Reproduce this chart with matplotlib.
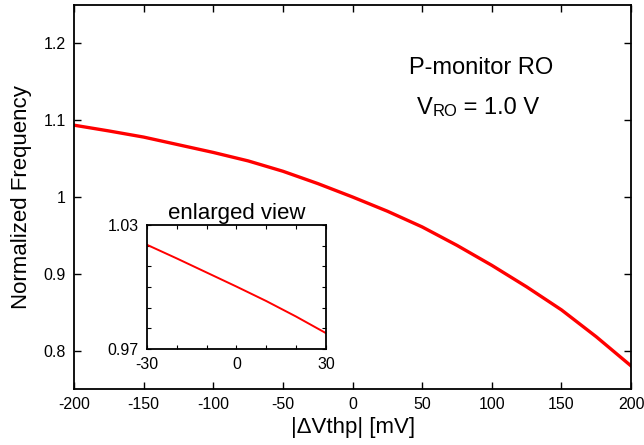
import matplotlib.pyplot as plt
import numpy as np

plt.rcParams['font.family'] = ['Liberation Sans', 'DejaVu Sans']
plt.rcParams['axes.unicode_minus'] = False

# threshold shift [mV] and normalized ring oscillator frequency
dvth = [-200, -175, -150, -125, -100, -75, -50, -25, 0, 25, 50, 75, 100, 125, 150, 175, 200]
freq = [1.0935, 1.086, 1.078, 1.068, 1.058, 1.047, 1.0335, 1.0175, 1.0, 0.9815, 0.961,
        0.937, 0.911, 0.883, 0.853, 0.818, 0.780]

# zoomed region around 0 mV
dvth_zoom = [-30, -20, -10, 0, 10, 20, 30]
freq_zoom = [1.0204, 1.0138, 1.0070, 1.0002, 0.9932, 0.9857, 0.9777]

fig = plt.figure(figsize=(6.44, 4.45), dpi=100)
ax = fig.add_axes([0.115, 0.1258, 0.865, 0.863])
ax.plot(dvth, freq, color='#ff0000', lw=2.4)
ax.set_xlim(-200, 200)
ax.set_ylim(0.75, 1.25)
ax.set_xticks(np.arange(-200, 201, 50))
ax.set_yticks([0.8, 0.9, 1.0, 1.1, 1.2])
ax.set_yticklabels(['0.8', '0.9', '1', '1.1', '1.2'])
ax.tick_params(direction='in', top=True, right=True, labelsize=11.5, length=5, width=1, pad=6)
for s in ax.spines.values():
    s.set_linewidth(1.3)
ax.set_xlabel('|\u0394Vthp| [mV]', fontsize=16, labelpad=3)
ax.set_ylabel('Normalized Frequency', fontsize=16, labelpad=8)

ax.text(0.73, 0.836, 'P-monitor RO', transform=ax.transAxes, ha='center', va='center', fontsize=17)

# V_RO label: "RO" drawn smaller on the same line
t1 = ax.text(0.615, 0.715, 'V', transform=ax.transAxes, ha='left', va='baseline', fontsize=17)
t2 = ax.annotate('RO', xy=(1, 0), xycoords=t1, ha='left', va='bottom', fontsize=12)
ax.annotate(' = 1.0 V', xy=(1, 0), xycoords=t2, ha='left', va='bottom', fontsize=17)

# inset
ins = fig.add_axes([0.228, 0.2157, 0.278, 0.279])
ins.plot(dvth_zoom, freq_zoom, color='#ff0000', lw=1.4)
ins.set_xlim(-30, 30)
ins.set_ylim(0.97, 1.03)
ins.set_xticks(np.arange(-30, 31, 10))
ins.set_xticklabels(['-30', '', '', '0', '', '', '30'])
ins.set_yticks(np.arange(0.97, 1.031, 0.01))
ins.set_yticklabels(['0.97', '', '', '', '', '', '1.03'])
ins.tick_params(direction='in', top=True, right=True, labelsize=11.5, length=3, width=0.8, pad=6)
for s in ins.spines.values():
    s.set_linewidth(1.3)
ins.set_title('enlarged view', fontsize=16, pad=4)

plt.savefig('out.png')
